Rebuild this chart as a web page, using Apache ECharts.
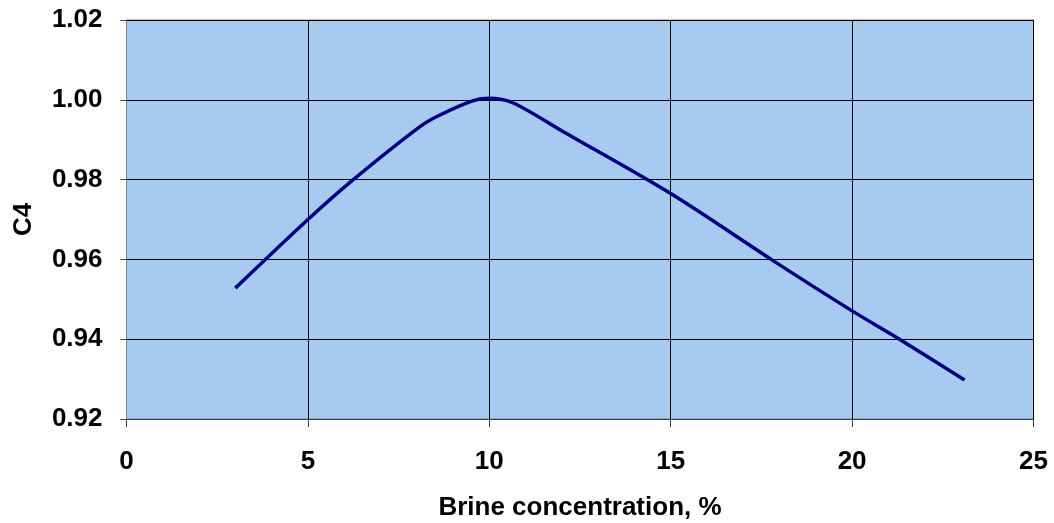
<!DOCTYPE html>
<html>
<head>
<meta charset="utf-8">
<script src="https://cdn.jsdelivr.net/npm/echarts@6/dist/echarts.min.js"></script>
<style>
html,body{margin:0;padding:0;background:#fff;}
#chart{width:1054px;height:523px;}
</style>
</head>
<body>
<div id="chart"></div>
<script>
const brineConc = [3, 5, 6.25, 8.09, 8.64, 9.56, 10, 10.66, 12.04, 15, 17.82, 20, 21.36, 23.1];
const c4Values = [0.9528, 0.9700, 0.9800, 0.9933, 0.9962, 0.9998, 1.0004, 0.9992, 0.9920, 0.9765, 0.9597, 0.9471, 0.9397, 0.9298];
const xTicks = [0, 5, 10, 15, 20, 25];
const yTicks = [0.92, 0.94, 0.96, 0.98, 1.00, 1.02];
const xTitle = 'Brine concentration, %';
const yTitle = 'C4';

const font = '"Liberation Sans", Arial, sans-serif';
const chart = echarts.init(document.getElementById('chart'), null, {renderer: 'canvas'});
chart.setOption({
  animation: false,
  backgroundColor: '#ffffff',
  grid: {
    left: 126.5, right: 20.5, top: 20, bottom: 104,
    containLabel: false, outerBoundsMode: 'none',
    show: true, backgroundColor: '#A6CAF0', borderColor: '#808080', borderWidth: 1
  },
  xAxis: {
    type: 'value',
    min: xTicks[0], max: xTicks[xTicks.length - 1], interval: 5,
    name: xTitle, nameLocation: 'middle', nameGap: 76,
    nameTextStyle: {fontFamily: font, fontWeight: 'bold', fontSize: 26, color: '#000'},
    axisLine: {show: true, onZero: false, lineStyle: {color: '#404040', width: 1}},
    axisTick: {show: true, length: 8, lineStyle: {color: '#404040'}},
    axisLabel: {fontFamily: font, fontWeight: 'bold', fontSize: 26, color: '#000', margin: 30},
    splitLine: {show: true, lineStyle: {color: '#000', width: 1}}
  },
  yAxis: {
    type: 'value',
    min: yTicks[0], max: yTicks[yTicks.length - 1], interval: 0.02,
    name: yTitle, nameLocation: 'middle', nameGap: 90,
    nameTextStyle: {fontFamily: font, fontWeight: 'bold', fontSize: 26, color: '#000'},
    axisLine: {show: true, lineStyle: {color: '#808080', width: 1}},
    axisTick: {show: true, length: 6, lineStyle: {color: '#404040'}},
    axisLabel: {fontFamily: font, fontWeight: 'bold', fontSize: 26, color: '#000', margin: 24,
      formatter: v => v.toFixed(2)},
    splitLine: {show: true, lineStyle: {color: '#000', width: 1}}
  },
  series: [{
    type: 'line',
    data: brineConc.map((x, i) => [x, c4Values[i]]),
    smooth: 0.3,
    showSymbol: false,
    lineStyle: {color: '#000080', width: 3.5}
  }]
});
</script>
</body>
</html>
